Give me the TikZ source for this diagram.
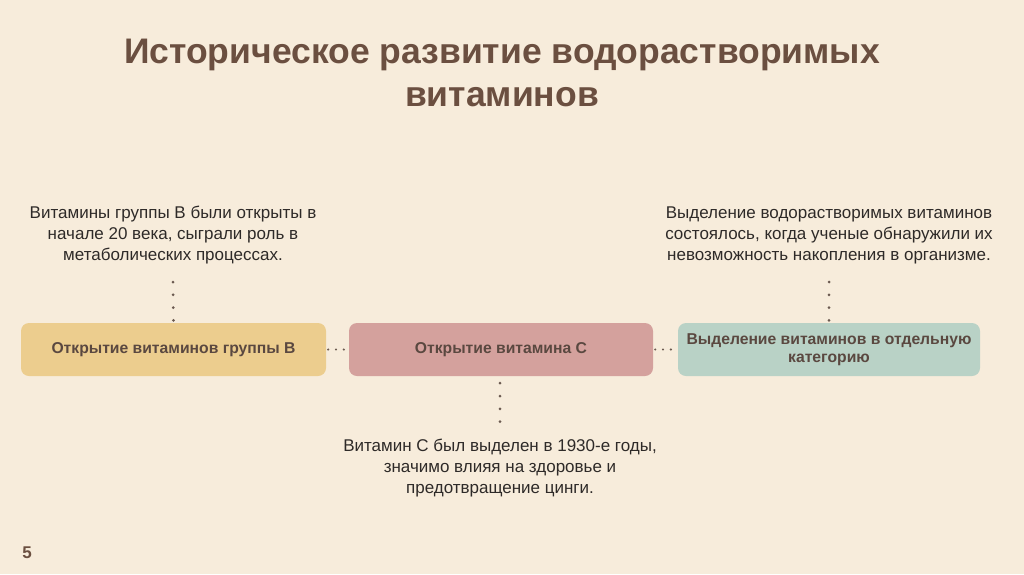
\documentclass[tikz,border=0pt]{standalone}
\usepackage{fontspec}
\setmainfont{Liberation Sans}
\definecolor{bg}{HTML}{F7ECDB}
\definecolor{titlec}{HTML}{6B4F40}
\definecolor{boxtext}{HTML}{5A4840}
\definecolor{bodyc}{HTML}{2E2A28}
\definecolor{yel}{HTML}{ECCD8E}
\definecolor{pink}{HTML}{D4A19D}
\definecolor{sage}{HTML}{B9D2C6}
\definecolor{dotc}{HTML}{6B5A50}
\tikzset{
  stagebox/.style={rounded corners=8pt, minimum height=53pt, inner sep=0pt, text=boxtext, font=\fontsize{15.7}{18.5}\selectfont\bfseries, align=center},
  desc/.style={text=bodyc, font=\fontsize{17}{21}\selectfont, align=center, inner sep=0pt},
  vdots/.style={draw=dotc, line width=3pt, line cap=round, dash pattern=on 0pt off 12.8pt},
  hdots/.style={draw=dotc, line width=2.4pt, line cap=round, dash pattern=on 0pt off 7.8pt},
}
\begin{document}
\begin{tikzpicture}[x=1pt,y=-1pt]
\fill[bg] (0,0) rectangle (1024,574);
\useasboundingbox (0,0) rectangle (1024,574);
\node[text=titlec, font=\bfseries\fontsize{35.5}{43}\selectfont, align=center] (title) at (502,73) {Историческое развитие водорастворимых\\витаминов};
\node[stagebox, fill=yel, minimum width=305pt] (b1) at (173.5,349.5) {Открытие витаминов группы В};
\node[stagebox, fill=pink, minimum width=304pt] (b2) at (501,349.5) {Открытие витамина С};
\node[stagebox, fill=sage, minimum width=302pt] (b3) at (829,349.5) {Выделение витаминов в отдельную\\категорию};
\node[desc] (t1) at (173,235) {Витамины группы В были открыты в\\начале 20 века, сыграли роль в\\метаболических процессах.};
\node[desc] (t3) at (829,235) {Выделение водорастворимых витаминов\\состоялось, когда ученые обнаружили их\\невозможность накопления в организме.};
\node[desc] (t2) at (500,468) {Витамин С был выделен в 1930-е годы,\\значимо влияя на здоровье и\\предотвращение цинги.};
\coordinate (c1) at (173,282);
\coordinate (c3) at (829,282);
\coordinate (c2) at (500,422);
\draw[vdots] (c1) -- (b1.north);
\draw[vdots] (c3) -- (b3.north);
\draw[vdots] ([yshift=-7pt]b2.south -| c2) -- (c2);
\draw[hdots] ([xshift=2pt]b1.east) -- (b2.west);
\draw[hdots] ([xshift=2pt]b2.east) -- (b3.west);
\node[text=titlec, font=\fontsize{17}{18}\selectfont\bfseries] (num) at (27,553) {5};
\end{tikzpicture}
\end{document}
